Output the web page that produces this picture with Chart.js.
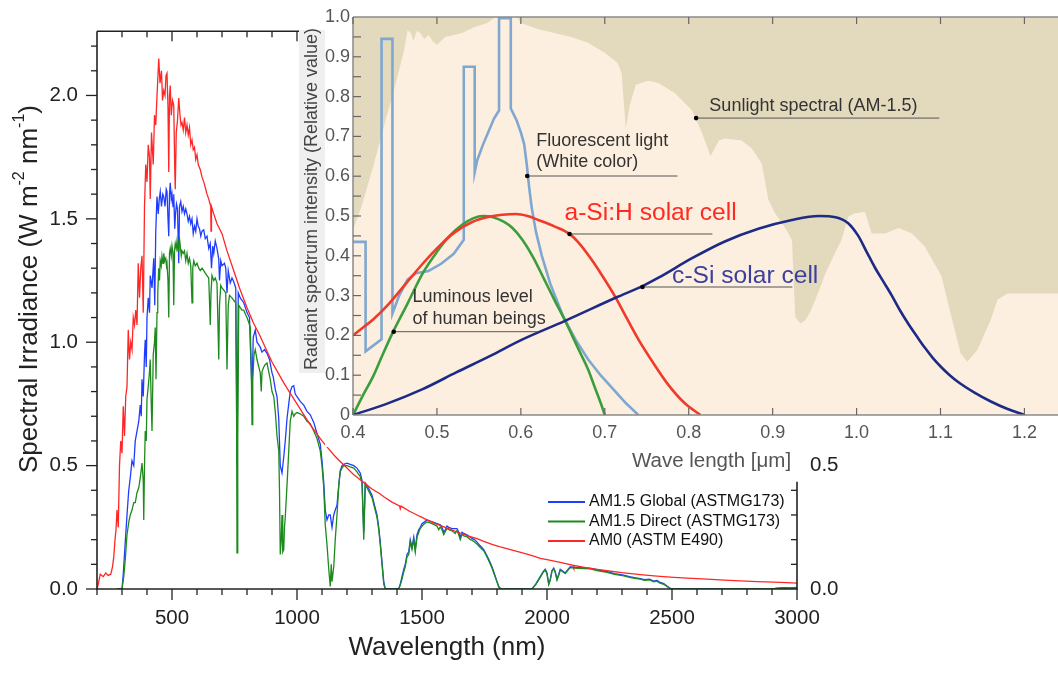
<!DOCTYPE html>
<html><head><meta charset="utf-8">
<script src="https://cdn.jsdelivr.net/npm/chart.js@4.4.1/dist/chart.umd.min.js"></script>
<style>
html,body{margin:0;padding:0;background:#fff;}
#wrap{position:relative;width:1058px;height:673px;overflow:hidden;}
#main{position:absolute;left:0;top:0;}
#inset{position:absolute;left:297px;top:0;}
</style></head><body>
<div id="wrap"><canvas id="main" width="1058" height="673"></canvas><canvas id="inset" width="761" height="480"></canvas></div>
<script>
// ===== Main chart data: [wavelength nm, W m-2 nm-1] =====
const am0 = [[200,0],[205,0.02],[213,0.06],[225,0.05],[235,0.065],[245,0.055],[255,0.06],[262,0.09],[267,0.13],[272,0.2],[276,0.24],[280,0.32],[285,0.25],[290,0.5],[295,0.6],[300,0.55],[305,0.74],[310,0.62],[315,0.78],[320,0.82],[325,1.05],[330,0.93],[335,1.0],[340,0.97],[345,1.1],[350,1.07],[355,1.13],[360,1.07],[365,1.32],[370,1.18],[375,1.3],[380,1.35],[385,1.12],[390,1.55],[395,1.72],[400,1.65],[405,1.8],[410,1.75],[413,1.58],[418,1.85],[425,1.72],[430,1.92],[435,1.88],[440,2.0],[447,2.15],[452,2.05],[458,2.1],[462,1.98],[467,2.02],[472,2.0],[476,2.08],[480,2.09],[484,1.95],[487,1.69],[490,2.0],[493,2.04],[497,1.92],[502,1.98],[507,1.96],[511,1.7],[513,1.62],[517,1.85],[522,1.9],[527,1.99],[532,1.92],[536,1.88],[540,1.89],[545,1.86],[550,1.91],[555,1.85],[560,1.88],[565,1.84],[570,1.87],[575,1.8],[580,1.82],[585,1.78],[590,1.79],[595,1.74],[600,1.76],[605,1.72],[613,1.70],[620,1.67],[627,1.65],[635,1.62],[640,1.6],[647,1.58],[655,1.55],[656,1.45],[658,1.55],[667,1.52],[680,1.48],[690,1.46],[700,1.44],[720,1.37],[747,1.29],[770,1.22],[800,1.14],[825,1.08],[850,1.03],[875,0.975],[900,0.92],[925,0.875],[950,0.83],[975,0.79],[1000,0.75],[1025,0.71],[1050,0.67],[1075,0.635],[1100,0.60],[1125,0.57],[1150,0.54],[1175,0.515],[1200,0.49],[1225,0.465],[1250,0.445],[1275,0.425],[1300,0.405],[1333,0.385],[1350,0.372],[1380,0.352],[1410,0.337],[1413,0.325],[1416,0.336],[1450,0.315],[1480,0.3],[1500,0.29],[1520,0.28],[1547,0.268],[1580,0.255],[1613,0.242],[1650,0.228],[1680,0.216],[1720,0.204],[1747,0.193],[1780,0.181],[1813,0.171],[1850,0.161],[1880,0.152],[1920,0.141],[1947,0.133],[1973,0.124],[2000,0.119],[2053,0.108],[2105,0.096],[2107,0.088],[2110,0.095],[2170,0.084],[2240,0.074],[2300,0.066],[2373,0.058],[2440,0.052],[2507,0.047],[2580,0.043],[2640,0.04],[2710,0.036],[2773,0.033],[2840,0.03],[2907,0.028],[2960,0.026],[3000,0.024]];

const am15Global = [[280,0],[300,0],[305,0.06],[313,0.19],[320,0.3],[327,0.4],[333,0.45],[340,0.52],[347,0.5],[353,0.6],[360,0.64],[367,0.68],[373,0.745],[377,0.7],[380,0.85],[385,0.78],[390,0.95],[393,1.01],[397,0.9],[400,1.1],[405,1.18],[410,1.12],[413,1.27],[420,1.22],[427,1.34],[431,1.15],[435,1.45],[440,1.59],[445,1.52],[449,1.58],[453,1.61],[458,1.55],[463,1.6],[467,1.59],[472,1.55],[477,1.62],[480,1.61],[484,1.5],[487,1.43],[490,1.6],[493,1.646],[497,1.58],[500,1.6],[504,1.55],[507,1.6],[511,1.46],[514,1.52],[518,1.56],[522,1.54],[527,1.32],[530,1.55],[535,1.57],[540,1.53],[545,1.55],[550,1.52],[555,1.54],[560,1.52],[565,1.49],[570,1.51],[575,1.48],[580,1.5],[585,1.44],[590,1.47],[595,1.45],[600,1.5],[605,1.47],[610,1.46],[615,1.43],[620,1.45],[627,1.455],[633,1.42],[640,1.43],[647,1.38],[653,1.4],[658,1.3],[663,1.39],[667,1.36],[673,1.41],[680,1.38],[687,1.337],[690,1.25],[695,1.33],[700,1.31],[710,1.32],[715,1.3],[720,1.2],[725,1.29],[733,1.24],[740,1.26],[747,1.245],[755,1.22],[760,0.5],[765,1.2],[773,1.18],[787,1.16],[800,1.12],[810,1.1],[813,0.995],[820,0.8],[825,1.02],[833,1.05],[840,1.0],[853,0.98],[860,0.96],[870,0.97],[880,0.955],[890,0.93],[900,0.876],[905,0.86],[913,0.81],[920,0.78],[927,0.69],[933,0.5],[940,0.47],[947,0.535],[953,0.6],[960,0.69],[967,0.75],[973,0.8],[980,0.82],[987,0.824],[993,0.79],[1000,0.78],[1013,0.76],[1027,0.745],[1040,0.72],[1053,0.706],[1067,0.675],[1080,0.63],[1093,0.587],[1100,0.52],[1107,0.43],[1113,0.32],[1120,0.28],[1127,0.3],[1133,0.3],[1140,0.25],[1147,0.3],[1153,0.32],[1160,0.34],[1167,0.42],[1173,0.48],[1180,0.5],[1187,0.505],[1200,0.51],[1213,0.505],[1227,0.5],[1240,0.49],[1253,0.47],[1260,0.44],[1267,0.23],[1273,0.43],[1280,0.42],[1290,0.4],[1300,0.38],[1310,0.34],[1320,0.3],[1327,0.25],[1333,0.19],[1340,0.11],[1347,0.03],[1353,0],[1407,0],[1413,0.02],[1420,0.05],[1427,0.08],[1433,0.1],[1440,0.14],[1447,0.15],[1453,0.2],[1460,0.17],[1467,0.21],[1473,0.16],[1480,0.22],[1487,0.24],[1493,0.25],[1500,0.265],[1507,0.27],[1520,0.28],[1533,0.275],[1547,0.27],[1560,0.265],[1573,0.26],[1580,0.25],[1587,0.23],[1593,0.24],[1600,0.255],[1607,0.25],[1620,0.245],[1640,0.245],[1647,0.23],[1653,0.21],[1660,0.23],[1667,0.225],[1680,0.22],[1693,0.21],[1700,0.205],[1710,0.2],[1720,0.19],[1733,0.175],[1747,0.16],[1760,0.135],[1767,0.12],[1780,0.09],[1787,0.07],[1800,0.03],[1807,0.01],[1815,0],[1940,0],[1955,0.02],[1973,0.05],[1985,0.07],[1993,0.08],[2000,0.065],[2007,0.02],[2013,0.04],[2020,0.075],[2027,0.085],[2033,0.07],[2040,0.04],[2047,0.06],[2053,0.08],[2060,0.075],[2073,0.065],[2085,0.08],[2093,0.09],[2110,0.088],[2130,0.087],[2150,0.086],[2173,0.085],[2200,0.078],[2240,0.07],[2270,0.062],[2307,0.056],[2330,0.05],[2350,0.046],[2373,0.042],[2390,0.038],[2410,0.04],[2427,0.032],[2440,0.035],[2450,0.028],[2467,0.022],[2480,0.012],[2490,0.005],[2500,0],[2900,0],[2920,0.003],[2950,0.005],[2970,0.004],[3000,0.006]];

const am15Direct = [[280,0],[300,0],[307,0.05],[313,0.12],[320,0.22],[327,0.27],[333,0.3],[340,0.32],[347,0.35],[353,0.35],[360,0.39],[367,0.41],[373,0.45],[380,0.51],[385,0.44],[387,0.28],[390,0.5],[393,0.64],[397,0.6],[400,0.77],[405,0.82],[410,0.88],[413,0.93],[417,0.75],[420,0.64],[425,0.95],[430,1.0],[433,1.06],[436,0.85],[440,1.12],[443,1.2],[447,1.3],[450,1.25],[453,1.33],[457,1.31],[460,1.35],[464,1.32],[467,1.36],[471,1.33],[475,1.34],[478,1.31],[480,1.32],[484,1.25],[487,1.1],[490,1.36],[493,1.38],[497,1.35],[500,1.39],[504,1.36],[507,1.15],[510,1.37],[513,1.4],[517,1.38],[520,1.41],[524,1.37],[527,1.41],[530,1.42],[533,1.39],[537,1.35],[540,1.37],[545,1.36],[550,1.37],[555,1.33],[560,1.36],[565,1.32],[570,1.34],[575,1.31],[580,1.16],[583,1.3],[587,1.33],[593,1.31],[600,1.32],[607,1.3],[613,1.29],[620,1.3],[627,1.29],[633,1.28],[640,1.27],[647,1.26],[653,1.07],[656,1.2],[660,1.27],[667,1.25],[673,1.26],[680,1.24],[687,0.93],[690,1.15],[695,1.23],[700,1.22],[708,1.21],[715,1.2],[720,0.89],[725,1.15],[730,1.19],[740,1.18],[747,1.17],[755,1.16],[758,0.8],[760,0.146],[763,0.6],[767,1.15],[773,1.14],[780,1.13],[787,1.13],[795,1.11],[800,1.1],[807,1.08],[813,1.06],[817,0.9],[820,0.666],[823,0.85],[828,0.95],[833,0.97],[840,0.93],[847,0.9],[853,0.876],[857,0.8],[860,0.88],[867,0.9],[873,0.91],[880,0.916],[887,0.88],[893,0.85],[900,0.8],[907,0.78],[913,0.72],[920,0.62],[927,0.56],[930,0.4],[933,0.14],[937,0.2],[940,0.3],[943,0.15],[947,0.16],[950,0.25],[953,0.29],[960,0.42],[967,0.56],[973,0.68],[980,0.72],[987,0.7],[993,0.71],[1000,0.715],[1013,0.71],[1027,0.7],[1040,0.68],[1053,0.67],[1067,0.64],[1080,0.61],[1093,0.56],[1100,0.5],[1107,0.41],[1113,0.26],[1120,0.18],[1127,0.08],[1133,0.01],[1137,0.1],[1140,0.03],[1147,0.09],[1153,0.2],[1160,0.3],[1167,0.42],[1173,0.475],[1180,0.49],[1187,0.5],[1200,0.5],[1213,0.495],[1227,0.49],[1240,0.475],[1253,0.455],[1260,0.43],[1267,0.2],[1273,0.42],[1280,0.41],[1290,0.39],[1300,0.37],[1310,0.33],[1320,0.29],[1327,0.24],[1333,0.18],[1340,0.1],[1347,0.02],[1353,0],[1405,0],[1413,0.015],[1420,0.04],[1427,0.07],[1433,0.09],[1440,0.13],[1447,0.14],[1453,0.19],[1460,0.16],[1467,0.2],[1473,0.15],[1480,0.21],[1487,0.23],[1493,0.245],[1500,0.255],[1507,0.262],[1520,0.272],[1533,0.268],[1547,0.262],[1560,0.255],[1567,0.24],[1573,0.252],[1580,0.24],[1587,0.22],[1593,0.232],[1600,0.245],[1607,0.24],[1620,0.236],[1633,0.225],[1640,0.237],[1647,0.22],[1653,0.2],[1660,0.222],[1667,0.215],[1680,0.212],[1693,0.2],[1700,0.198],[1710,0.19],[1720,0.182],[1733,0.168],[1747,0.155],[1760,0.13],[1767,0.115],[1780,0.085],[1787,0.065],[1800,0.028],[1807,0.008],[1815,0],[1940,0],[1955,0.018],[1973,0.047],[1985,0.068],[1993,0.078],[2000,0.06],[2007,0.018],[2013,0.035],[2020,0.072],[2027,0.082],[2033,0.066],[2040,0.036],[2047,0.056],[2053,0.077],[2060,0.072],[2073,0.062],[2085,0.078],[2093,0.087],[2110,0.085],[2130,0.084],[2150,0.083],[2173,0.082],[2200,0.075],[2240,0.067],[2270,0.059],[2307,0.053],[2330,0.047],[2350,0.043],[2373,0.04],[2390,0.035],[2410,0.037],[2427,0.029],[2440,0.032],[2450,0.025],[2467,0.019],[2480,0.01],[2490,0.003],[2500,0],[2900,0],[2920,0.002],[2950,0.004],[2970,0.003],[3000,0.005]];

const seriesLabels = ['AM1.5 Global (ASTMG173)','AM1.5 Direct (ASTMG173)','AM0 (ASTM E490)'];
const xTicks = [500,1000,1500,2000,2500,3000];
const xTickLabels = ['500','1000','1500','2000','2500','3000'];
const yTicks = [0,0.5,1,1.5,2];
const yTickLabels = ['0.0','0.5','1.0','1.5','2.0'];
const y2Ticks = [0,0.5];
const y2TickLabels = ['0.0','0.5'];

// ===== Inset data: [wavelength um, relative value] =====
const sunlightAM15 = [[0.4,0.465],[0.41,0.523],[0.424,0.624],[0.44,0.75],[0.451,0.834],[0.461,0.917],[0.465,0.967],[0.469,0.96],[0.472,0.94],[0.476,0.965],[0.48,0.96],[0.485,0.945],[0.49,0.955],[0.495,0.94],[0.5,0.93],[0.51,0.95],[0.52,0.955],[0.53,0.96],[0.545,0.975],[0.56,0.985],[0.57,1.0],[0.595,1.0],[0.6,0.985],[0.62,0.97],[0.64,0.96],[0.66,0.95],[0.68,0.935],[0.7,0.91],[0.715,0.885],[0.72,0.86],[0.725,0.72],[0.73,0.78],[0.737,0.83],[0.752,0.84],[0.764,0.834],[0.784,0.808],[0.804,0.766],[0.816,0.708],[0.826,0.65],[0.836,0.69],[0.843,0.695],[0.863,0.69],[0.875,0.67],[0.887,0.632],[0.895,0.54],[0.903,0.506],[0.915,0.47],[0.923,0.44],[0.927,0.246],[0.933,0.23],[0.939,0.238],[0.945,0.26],[0.951,0.29],[0.963,0.356],[0.975,0.41],[0.982,0.44],[0.99,0.498],[0.997,0.506],[1.01,0.51],[1.018,0.456],[1.034,0.456],[1.05,0.47],[1.066,0.456],[1.081,0.424],[1.101,0.35],[1.113,0.247],[1.124,0.155],[1.132,0.134],[1.144,0.164],[1.16,0.24],[1.168,0.29],[1.18,0.305],[1.2,0.305],[1.24,0.305]];
const fluorescent = [[0.4,0.435],[0.415,0.435],[0.415,0.16],[0.434,0.19],[0.434,0.945],[0.447,0.945],[0.447,0.255],[0.455,0.3],[0.465,0.34],[0.475,0.356],[0.49,0.362],[0.505,0.38],[0.52,0.405],[0.532,0.44],[0.532,0.875],[0.545,0.875],[0.545,0.61],[0.548,0.64],[0.555,0.68],[0.562,0.715],[0.568,0.745],[0.574,0.765],[0.574,0.997],[0.588,0.997],[0.588,0.77],[0.595,0.74],[0.6,0.71],[0.604,0.68],[0.607,0.63],[0.61,0.57],[0.613,0.52],[0.618,0.46],[0.625,0.4],[0.635,0.33],[0.65,0.25],[0.665,0.19],[0.68,0.14],[0.695,0.1],[0.71,0.065],[0.725,0.03],[0.74,0.0]];
const luminous = [[0.4,0],[0.412,0.05],[0.424,0.097],[0.435,0.15],[0.448,0.21],[0.465,0.28],[0.483,0.356],[0.5,0.41],[0.515,0.45],[0.53,0.478],[0.543,0.494],[0.555,0.5],[0.567,0.497],[0.58,0.485],[0.59,0.47],[0.602,0.44],[0.615,0.395],[0.628,0.34],[0.641,0.285],[0.652,0.24],[0.661,0.2],[0.671,0.155],[0.68,0.115],[0.688,0.07],[0.696,0.025],[0.7,0]];
const aSiH = [[0.4,0.2],[0.412,0.22],[0.424,0.24],[0.443,0.28],[0.463,0.33],[0.483,0.38],[0.503,0.425],[0.522,0.46],[0.542,0.485],[0.562,0.498],[0.578,0.503],[0.594,0.505],[0.608,0.5],[0.621,0.49],[0.64,0.474],[0.658,0.455],[0.67,0.43],[0.681,0.4],[0.697,0.35],[0.713,0.295],[0.727,0.24],[0.74,0.19],[0.758,0.13],[0.776,0.075],[0.795,0.03],[0.814,0]];
const cSi = [[0.4,0],[0.44,0.028],[0.483,0.065],[0.523,0.107],[0.563,0.148],[0.602,0.19],[0.652,0.236],[0.7155,0.297],[0.745,0.324],[0.764,0.345],[0.804,0.394],[0.843,0.436],[0.883,0.468],[0.923,0.49],[0.955,0.5],[0.975,0.497],[0.99,0.482],[1.002,0.45],[1.012,0.41],[1.022,0.37],[1.032,0.335],[1.042,0.3],[1.052,0.262],[1.062,0.228],[1.072,0.197],[1.081,0.17],[1.091,0.143],[1.101,0.12],[1.111,0.1],[1.121,0.083],[1.14,0.057],[1.16,0.034],[1.18,0.015],[1.2,0]];
const insetXTicks = [0.4,0.5,0.6,0.7,0.8,0.9,1.0,1.1,1.2];
const insetXTickLabels = ['0.4','0.5','0.6','0.7','0.8','0.9','1.0','1.1','1.2'];
const insetYTicks = [0,0.1,0.2,0.3,0.4,0.5,0.6,0.7,0.8,0.9,1.0];
const insetYTickLabels = ['0','0.1','0.2','0.3','0.4','0.5','0.6','0.7','0.8','0.9','1.0'];
// annotations: text lines, label anchor (um, value), dot (um, value), leader end um
const insetNotes = [
  {lines:['Sunlight spectral (AM-1.5)'], tx:0.8246, ty:[0.776], dot:[0.8088,0.746], end:1.0985, color:'#333', size:18},
  {lines:['Fluorescent light','(White color)'], tx:0.6183, ty:[0.688,0.635], dot:[0.6076,0.6005], end:0.7866, color:'#333', size:18},
  {lines:['a-Si:H solar cell'], tx:0.652, ty:[0.508], dot:[0.658,0.4548], end:0.8282, color:'#ff2a1f', size:24.6},
  {lines:['c-Si solar cell'], tx:0.7802, ty:[0.348], dot:[0.7449,0.3216], end:0.9235, color:'#3c3f9e', size:24.6},
  {lines:['Luminous level','of human beings'], tx:0.471, ty:[0.296,0.24], dot:[0.4485,0.2093], end:0.6199, color:'#333', size:18}
];

const FONT = "'Liberation Sans', Arial, Helvetica, sans-serif";
const toXY = a => a.map(p => ({x:p[0], y:p[1]}));

function seg(ctx,x1,y1,x2,y2){ctx.beginPath();ctx.moveTo(x1,y1);ctx.lineTo(x2,y2);ctx.stroke();}

// ===== main chart decorations =====
const mainDecor = {
  id:'mainDecor',
  afterDatasetsDraw(chart){
    const {ctx, chartArea:a, scales:{x,y}} = chart;
    ctx.save();
    ctx.strokeStyle='#222'; ctx.lineWidth=1.6;
    seg(ctx,a.left,a.top,a.right,a.top);
    seg(ctx,a.left,a.top,a.left,a.bottom+0.8);
    seg(ctx,a.left-0.8,a.bottom,a.right+0.8,a.bottom);
    seg(ctx,a.right,y.getPixelForValue(0.435),a.right,a.bottom);
    ctx.lineWidth=1.3;
    for(let v=200; v<=3000; v+=100){
      const px=x.getPixelForValue(v), major=v%500===0;
      seg(ctx,px,a.bottom,px,a.bottom+(major?11:6));
      if(v>200 && v<3000) seg(ctx,px,a.top,px,a.top+(major?10:6));
    }
    for(let i=0;i<=22;i++){
      const py=y.getPixelForValue(i/10), major=i%5===0;
      seg(ctx,a.left-(major?11:6),py,a.left,py);
      if(i>0 && i<=4) seg(ctx,a.right-6,py,a.right,py);
    }
    ctx.restore();
  },
  afterDraw(chart){
    const {ctx, chartArea:a} = chart;
    ctx.save();
    ctx.fillStyle='#222';
    ctx.font='26px '+FONT; ctx.textAlign='center'; ctx.textBaseline='middle';
    ctx.fillText('Wavelength (nm)', (a.left+a.right)/2, 648);
    ctx.translate(30,289); ctx.rotate(-Math.PI/2);
    const parts=[['Spectral Irradiance (W m',0],['-2',1],[' nm',0],['-1',1],[')',0]];
    let w=0;
    parts.forEach(p=>{ctx.font=(p[1]?'16px ':'26px ')+FONT; w+=ctx.measureText(p[0]).width;});
    let cx=-w/2; ctx.textAlign='left';
    parts.forEach(p=>{ctx.font=(p[1]?'16px ':'26px ')+FONT; ctx.fillText(p[0],cx,p[1]?-10:0); cx+=ctx.measureText(p[0]).width;});
    ctx.restore();
    ctx.save();
    ctx.font='16px '+FONT; ctx.textBaseline='middle'; ctx.textAlign='left';
    const rows=[502,521.5,541];
    chart.data.datasets.forEach((d,i)=>{
      ctx.strokeStyle=d.borderColor; ctx.lineWidth=2;
      seg(ctx,548,rows[i],585,rows[i]);
      ctx.fillStyle='#111'; ctx.fillText(d.label,589,rows[i]);
    });
    ctx.restore();
  }
};

new Chart(document.getElementById('main'), {
  type:'line',
  data:{datasets:[
    {label:seriesLabels[0], data:toXY(am15Global), borderColor:'#1f3dff', borderWidth:1.3, pointRadius:0, order:3},
    {label:seriesLabels[1], data:toXY(am15Direct), borderColor:'#1d8a1d', borderWidth:1.3, pointRadius:0, order:2},
    {label:seriesLabels[2], data:toXY(am0), borderColor:'#ff2626', borderWidth:1.3, pointRadius:0, order:1}
  ]},
  options:{
    responsive:false, animation:false, events:[],
    plugins:{legend:{display:false}, tooltip:{enabled:false}},
    layout:{padding:{top:17,left:0,right:0,bottom:0}},
    elements:{line:{tension:0}},
    scales:{
      x:{type:'linear', position:'bottom', min:200, max:3000,
        afterFit(s){s.height=84;},
        afterBuildTicks(s){s.ticks=xTicks.map(v=>({value:v}));},
        ticks:{padding:17, color:'#222', font:{family:FONT,size:20.5}, maxRotation:0, autoSkip:false,
          callback:(v)=>xTickLabels[xTicks.indexOf(v)]},
        grid:{display:false, drawTicks:false}, border:{display:false}},
      y:{type:'linear', position:'left', min:0, max:2.26,
        afterFit(s){s.width=97;},
        afterBuildTicks(s){s.ticks=yTicks.map(v=>({value:v}));},
        ticks:{padding:19, color:'#222', font:{family:FONT,size:20.5},
          callback:(v)=>yTickLabels[yTicks.indexOf(v)]},
        grid:{display:false, drawTicks:false}, border:{display:false}},
      y2:{type:'linear', position:'right', min:0, max:2.26,
        afterFit(s){s.width=261;},
        afterBuildTicks(s){s.ticks=y2Ticks.map(v=>({value:v}));},
        ticks:{padding:13, color:'#222', font:{family:FONT,size:20.5},
          callback:(v)=>y2TickLabels[y2Ticks.indexOf(v)]},
        grid:{display:false, drawTicks:false}, border:{display:false}}
    }
  },
  plugins:[mainDecor]
});

// ===== inset decorations =====
const insetDecor = {
  id:'insetDecor',
  beforeDraw(chart){
    const {ctx, chartArea:a} = chart;
    ctx.save();
    ctx.fillStyle='#ffffff'; ctx.fillRect(28,0,chart.width-28,447);
    ctx.fillStyle='#efefef'; ctx.fillRect(2,30,26,343);
    ctx.fillStyle='#e3dabd'; ctx.fillRect(a.left,a.top,a.right-a.left,a.bottom-a.top);
    ctx.restore();
  },
  afterDatasetsDraw(chart){
    const {ctx, chartArea:a, scales:{x,y}} = chart;
    ctx.save();
    ctx.strokeStyle='#8a8a8a'; ctx.lineWidth=1.5;
    seg(ctx,a.left,a.top,a.right,a.top);
    seg(ctx,a.left,a.top,a.left,a.bottom);
    seg(ctx,a.left,a.bottom,a.right,a.bottom);
    ctx.lineWidth=1.2; ctx.strokeStyle='#666';
    insetXTicks.forEach(v=>{const px=x.getPixelForValue(v);
      seg(ctx,px,a.bottom,px,a.bottom-7); seg(ctx,px,a.top,px,a.top+7);});
    for(let i=1;i<20;i++){const py=y.getPixelForValue(i*0.05); seg(ctx,a.left,py,a.left+8,py);}
    insetNotes.forEach(n=>{
      const dx=x.getPixelForValue(n.dot[0]), dy=y.getPixelForValue(n.dot[1]);
      ctx.strokeStyle='#555'; ctx.lineWidth=1;
      seg(ctx,dx,dy,x.getPixelForValue(n.end),dy);
      ctx.fillStyle='#000'; ctx.beginPath(); ctx.arc(dx,dy,2.3,0,Math.PI*2); ctx.fill();
      ctx.fillStyle=n.color; ctx.font=n.size+'px '+FONT; ctx.textAlign='left'; ctx.textBaseline='middle';
      n.lines.forEach((t,i)=>ctx.fillText(t,x.getPixelForValue(n.tx),y.getPixelForValue(n.ty[i])));
    });
    ctx.restore();
  },
  afterDraw(chart){
    const {ctx} = chart;
    ctx.save();
    ctx.fillStyle='#555'; ctx.font='20.5px '+FONT; ctx.textAlign='center'; ctx.textBaseline='middle';
    ctx.fillText('Wave length [\u03bcm]', 414.5, 461);
    ctx.translate(15,199); ctx.rotate(-Math.PI/2);
    ctx.fillStyle='#444'; ctx.font='18px '+FONT;
    ctx.fillText('Radiant spectrum intensity (Relative value)',0,0);
    ctx.restore();
  }
};

new Chart(document.getElementById('inset'), {
  type:'line',
  data:{datasets:[
    {label:'Sunlight spectral (AM-1.5)', data:toXY(sunlightAM15), fill:'origin', backgroundColor:'#fcefdf', borderWidth:0, borderColor:'rgba(0,0,0,0)', pointRadius:0, order:5},
    {label:'Fluorescent light (White color)', data:toXY(fluorescent), borderColor:'#7fa7d0', borderWidth:2.6, pointRadius:0, fill:false, order:4},
    {label:'Luminous level of human beings', data:toXY(luminous), borderColor:'#3b9d3b', borderWidth:2.6, pointRadius:0, fill:false, cubicInterpolationMode:'monotone', order:3},
    {label:'a-Si:H solar cell', data:toXY(aSiH), borderColor:'#f03a2a', borderWidth:2.6, pointRadius:0, fill:false, cubicInterpolationMode:'monotone', order:2},
    {label:'c-Si solar cell', data:toXY(cSi), borderColor:'#1e2b86', borderWidth:2.6, pointRadius:0, fill:false, cubicInterpolationMode:'monotone', order:1}
  ]},
  options:{
    responsive:false, animation:false, events:[],
    plugins:{legend:{display:false}, tooltip:{enabled:false}},
    layout:{padding:{top:17,left:0,right:0,bottom:0}},
    scales:{
      x:{type:'linear', min:0.4, max:1.24,
        afterFit(s){s.height=65;},
        afterBuildTicks(s){s.ticks=insetXTicks.map(v=>({value:v}));},
        ticks:{padding:7, color:'#555', font:{family:FONT,size:18}, maxRotation:0, autoSkip:false,
          callback:(v)=>insetXTickLabels[insetXTicks.findIndex(t=>Math.abs(t-v)<1e-6)]},
        grid:{display:false, drawTicks:false}, border:{display:false}},
      y:{type:'linear', min:0, max:1,
        afterFit(s){s.width=56;},
        afterBuildTicks(s){s.ticks=insetYTicks.map(v=>({value:v}));},
        ticks:{padding:3, color:'#555', font:{family:FONT,size:18}, autoSkip:false,
          callback:(v)=>insetYTickLabels[insetYTicks.findIndex(t=>Math.abs(t-v)<1e-6)]},
        grid:{display:false, drawTicks:false}, border:{display:false}}
    }
  },
  plugins:[insetDecor]
});
</script></body></html>
